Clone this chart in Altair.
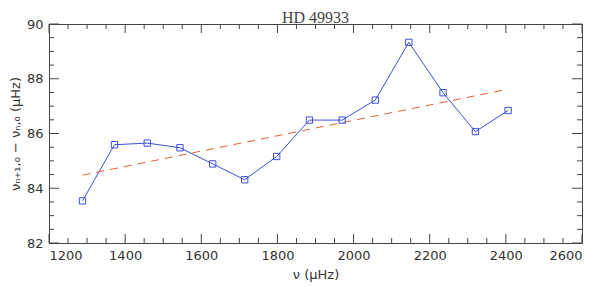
import altair as alt
import pandas as pd

# data
freq = [1288, 1372, 1458, 1544, 1630, 1714, 1798, 1884, 1970, 2057, 2145, 2235, 2320, 2406]
sep = [83.54, 85.59, 85.65, 85.48, 84.89, 84.31, 85.16, 86.49, 86.49, 87.22, 89.33, 87.49, 86.07, 86.84]
fit_x = [1288, 2406]
fit_y = [84.48, 87.62]

x_major = [1200, 1400, 1600, 1800, 2000, 2200, 2400, 2600]
x_minor = [1250, 1300, 1350, 1450, 1500, 1550, 1650, 1700, 1750, 1850, 1900, 1950,
           2050, 2100, 2150, 2250, 2300, 2350, 2450, 2500, 2550]
y_major = [82, 84, 86, 88, 90]
y_minor = [82.5, 83, 83.5, 84.5, 85, 85.5, 86.5, 87, 87.5, 88.5, 89, 89.5]

W, H = 533, 219
AX = "#444444"
FONT = "DejaVu Sans"

df = pd.DataFrame({"f": freq, "d": sep})
fit = pd.DataFrame({"f": fit_x, "d": fit_y})
xs = alt.Scale(domain=[1200, 2600], nice=False, zero=False)
ys = alt.Scale(domain=[82, 90], nice=False, zero=False)

xaxis = alt.Axis(values=x_major, ticks=False, tickSize=0, grid=False, labelPadding=6,
                 format="d", labelFontSize=13, labelFont=FONT, labelColor="#333",
                 title="ν (μHz)", titleFont=FONT, titleFontSize=13, titleFontWeight="normal",
                 titleColor="#333", titlePadding=6, domainColor=AX)
yaxis = alt.Axis(values=y_major, ticks=False, tickSize=0, grid=False, labelPadding=6,
                 format="d", labelFontSize=13, labelFont=FONT, labelColor="#333",
                 title="νₙ₊₁,₀ − νₙ,₀  (μHz)", titleFont=FONT, titleFontSize=13,
                 titleFontWeight="normal", titleColor="#333", titlePadding=4, domainColor=AX)

line = alt.Chart(df).mark_line(color="#3b4fd6", strokeWidth=1).encode(
    x=alt.X("f:Q", scale=xs, axis=xaxis),
    y=alt.Y("d:Q", scale=ys, axis=yaxis),
)
pts = alt.Chart(df).mark_point(shape="square", filled=False, size=40, color="#3b4fd6",
                               strokeWidth=1, opacity=1).encode(
    x=alt.X("f:Q", scale=xs), y=alt.Y("d:Q", scale=ys))
fitl = alt.Chart(fit).mark_line(color="#e0603a", strokeWidth=1, strokeDash=[8, 6]).encode(
    x=alt.X("f:Q", scale=xs), y=alt.Y("d:Q", scale=ys))


def xticks(vals, ln):
    d = pd.DataFrame({"t": vals})
    bot = alt.Chart(d).mark_rule(color=AX, strokeWidth=1).encode(
        x=alt.X("t:Q", scale=xs), y=alt.value(H), y2=alt.value(H - ln))
    top = alt.Chart(d).mark_rule(color=AX, strokeWidth=1).encode(
        x=alt.X("t:Q", scale=xs), y=alt.value(0), y2=alt.value(ln))
    return [bot, top]


def yticks(vals, ln):
    d = pd.DataFrame({"t": vals})
    left = alt.Chart(d).mark_rule(color=AX, strokeWidth=1).encode(
        y=alt.Y("t:Q", scale=ys), x=alt.value(0), x2=alt.value(ln))
    right = alt.Chart(d).mark_rule(color=AX, strokeWidth=1).encode(
        y=alt.Y("t:Q", scale=ys), x=alt.value(W), x2=alt.value(W - ln))
    return [left, right]


layers = [line, fitl, pts] + xticks(x_major, 9) + xticks(x_minor, 5) + yticks(y_major, 10) + yticks(y_minor, 5)

chart = alt.layer(*layers).properties(
    width=W, height=H,
    title=alt.TitleParams("HD 49933", font="Liberation Serif", fontSize=16,
                          fontWeight="normal", color="#444", offset=-8),
    autosize=alt.AutoSizeParams(type="none"),
    padding={"left": 41, "top": 16, "right": 10, "bottom": 44},
    background="white",
).configure_view(stroke=AX, strokeWidth=1)

chart.save("out.html", embed_options={"renderer": "svg", "actions": False})
